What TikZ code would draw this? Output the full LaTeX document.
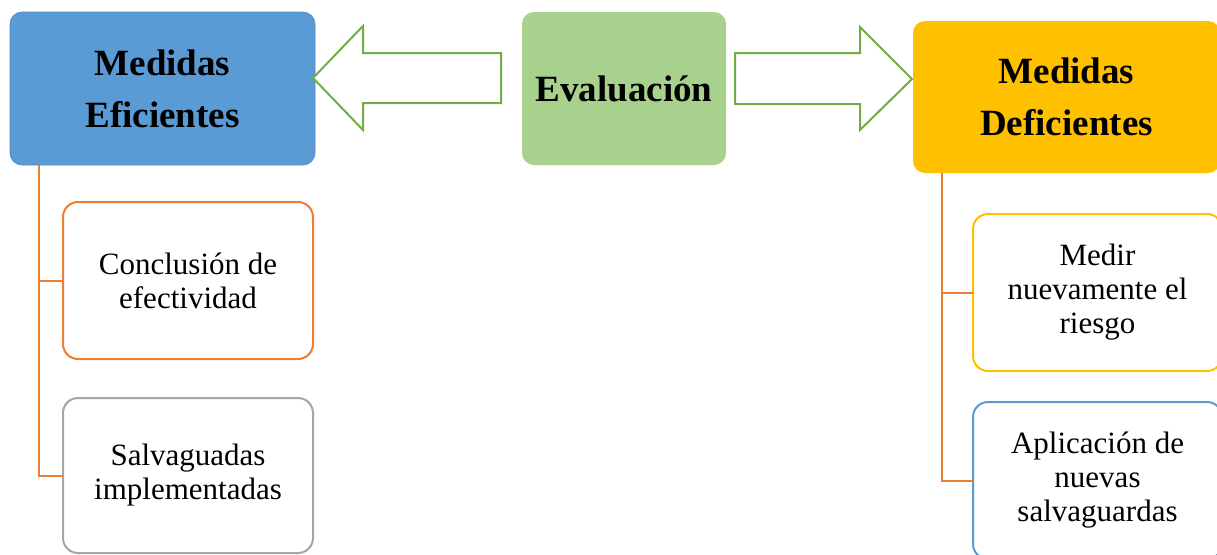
\documentclass[tikz,border=0pt]{standalone}
\usepackage{fontspec}
\setmainfont{Liberation Serif}
\definecolor{cblue}{HTML}{5B9BD5}
\definecolor{cblueb}{HTML}{4F8AC4}
\definecolor{cgreen}{HTML}{A9D18E}
\definecolor{carrow}{HTML}{70AD47}
\definecolor{cgold}{HTML}{FFC000}
\definecolor{corange}{HTML}{ED7D31}
\definecolor{cgray}{HTML}{A5A5A5}
\tikzset{
  headbox/.style={rectangle, rounded corners=12pt, inner sep=0pt, outer sep=0pt, align=center,
    font=\fontsize{37}{52}\selectfont\bfseries},
  subbox/.style={rectangle, rounded corners=15pt, inner sep=0pt, outer sep=0pt, align=center,
    line width=2pt, fill=white, minimum width=250pt,
    font=\fontsize{31}{34}\selectfont},
  bigarrow/.style={draw=carrow, line width=2pt, fill=white, line join=miter},
  conn/.style={draw=corange, line width=2pt},
}
\begin{document}
\begin{tikzpicture}[x=1pt,y=-1pt]
\useasboundingbox (0,0) rectangle (1217,554);
% head boxes
\node[headbox, fill=cblue, draw=cblueb, line width=0.6pt, minimum width=305pt, minimum height=153pt] (efi) at (162.5,88.5) {Medidas\\Eficientes};
\node[headbox, fill=cgreen, minimum width=204pt, minimum height=153pt] (eva) at (624,88.5) {Evaluación};
\node[headbox, fill=cgold, minimum width=307pt, minimum height=152pt] (defi) at (1066.5,97) {Medidas\\Deficientes};
% block arrows
\draw[bigarrow] (313,78) -- (363,26) -- (363,53) -- (501,53) -- (501,103) -- (363,103) -- (363,130) -- cycle;
\draw[bigarrow] (912,79) -- (860,27) -- (860,53) -- (735,53) -- (735,104) -- (860,104) -- (860,130) -- cycle;
% sub boxes
\node[subbox, draw=corange, minimum height=157pt] (c1) at (188,280.5) {Conclusión de\\efectividad};
\node[subbox, draw=cgray, minimum height=155pt] (c2) at (188,475.5) {Salvaguadas\\implementadas};
\node[subbox, draw=cgold, minimum width=249pt, minimum height=157pt] (d1) at (1097.5,292.5) {Medir\\nuevamente el\\riesgo};
\node[subbox, draw=cblue, minimum width=249pt, minimum height=157pt] (d2) at (1097.5,480.5) {Aplicación de\\nuevas\\salvaguardas};
% connectors
\coordinate (lt) at ([xshift=29pt]efi.south west);
\coordinate (rt) at ([xshift=29pt]defi.south west);
\draw[conn] (lt) |- (c1.west);
\draw[conn] (lt) |- (c2.west);
\draw[conn] (rt) |- (d1.west);
\draw[conn] (rt) |- (d2.west);
\end{tikzpicture}
\end{document}
